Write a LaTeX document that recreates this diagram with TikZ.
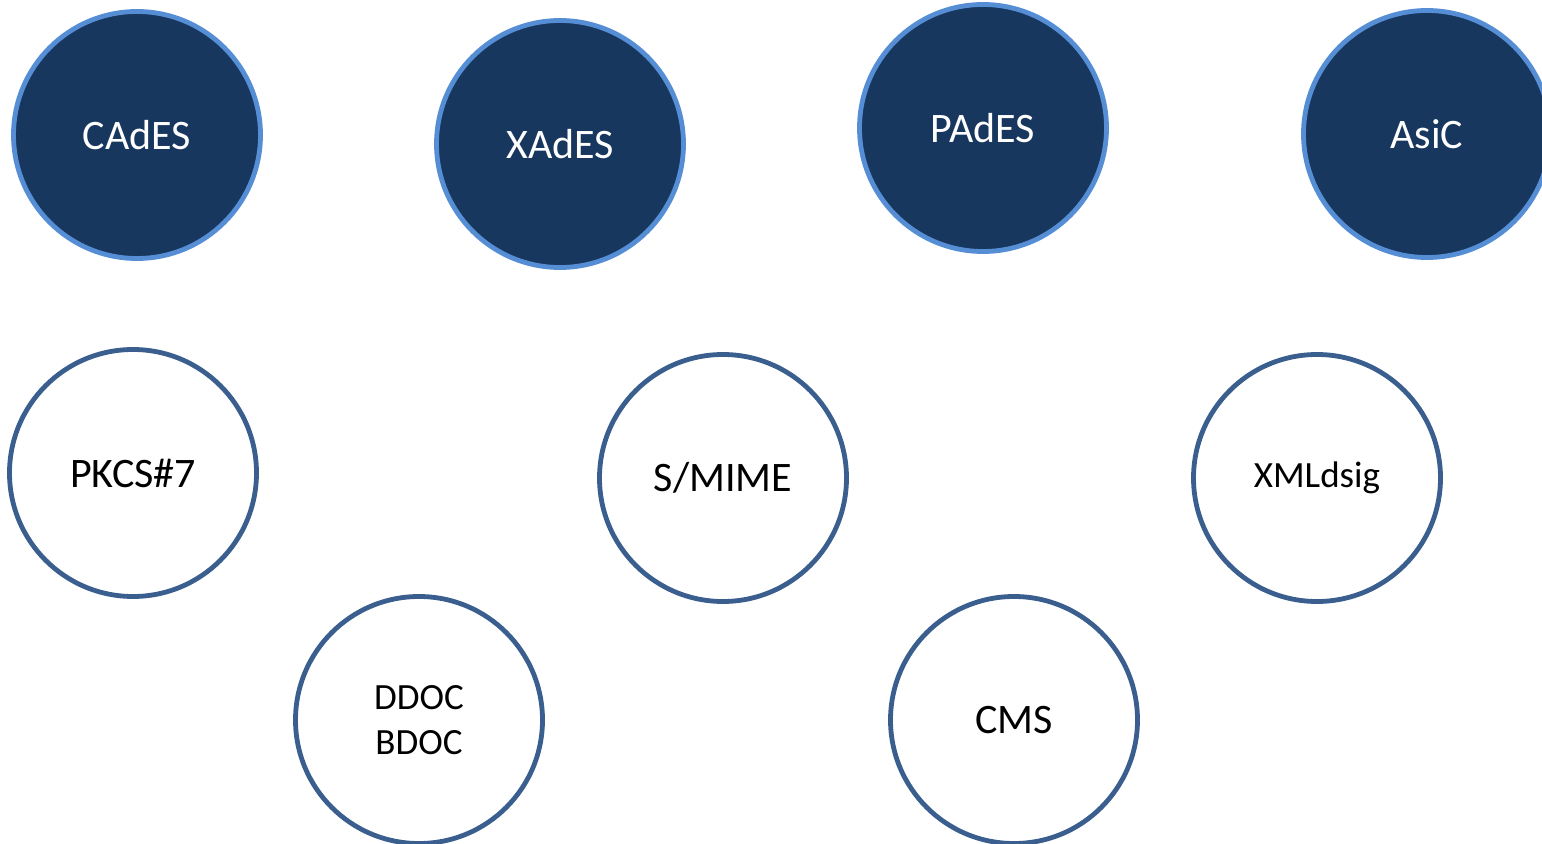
\documentclass[tikz,border=0pt]{standalone}
\usepackage{fontspec}
\setmainfont{Carlito}
\definecolor{sigdark}{RGB}{24,55,94}
\definecolor{sigring}{RGB}{85,142,213}
\definecolor{sigline}{RGB}{58,95,143}
\usetikzlibrary{positioning}
\tikzset{
	format/.style={
		circle,
		line width=2.4pt,
		draw=sigring,
		fill=sigdark,
		text=white,
		minimum size=123.5pt,
		inner sep=0pt,
		font=\fontsize{21}{25}\selectfont
	},
	legacy/.style={
		circle,
		line width=2.4pt,
		draw=sigline,
		fill=white,
		text=black,
		minimum size=123.5pt,
		inner sep=0pt,
		font=\fontsize{21}{25}\selectfont
	},
	small/.style={
		font=\fontsize{18.5}{22.5}\selectfont,
		align=center
	},
}
\begin{document}
\begin{tikzpicture}[x=0.5pt,y=-0.5pt]
	\useasboundingbox (0,0) rectangle (1542,844);
	\clip (0,0) rectangle (1542,844);
	% AdES family
	\node[format] (cades) at (137,135) {CAdES};
	\node[format] (xades) at (560,144) {XAdES};
	\node[format] (pades) at (983,128) {PAdES};
	\node[format] (asic)  at (1427,134) {AsiC};
	% older formats
	\node[legacy] (pkcs)    at (133,473) {PKCS\#7};
	\node[legacy] (smime)   at (723,478) {S/MIME};
	\node[legacy,small] (xmldsig) at (1317,478) {XMLdsig};
	\node[legacy,small] (ddoc)    at (419,720) {DDOC\\BDOC};
	\node[legacy] (cms)     at (1014,720) {CMS};
\end{tikzpicture}
\end{document}
